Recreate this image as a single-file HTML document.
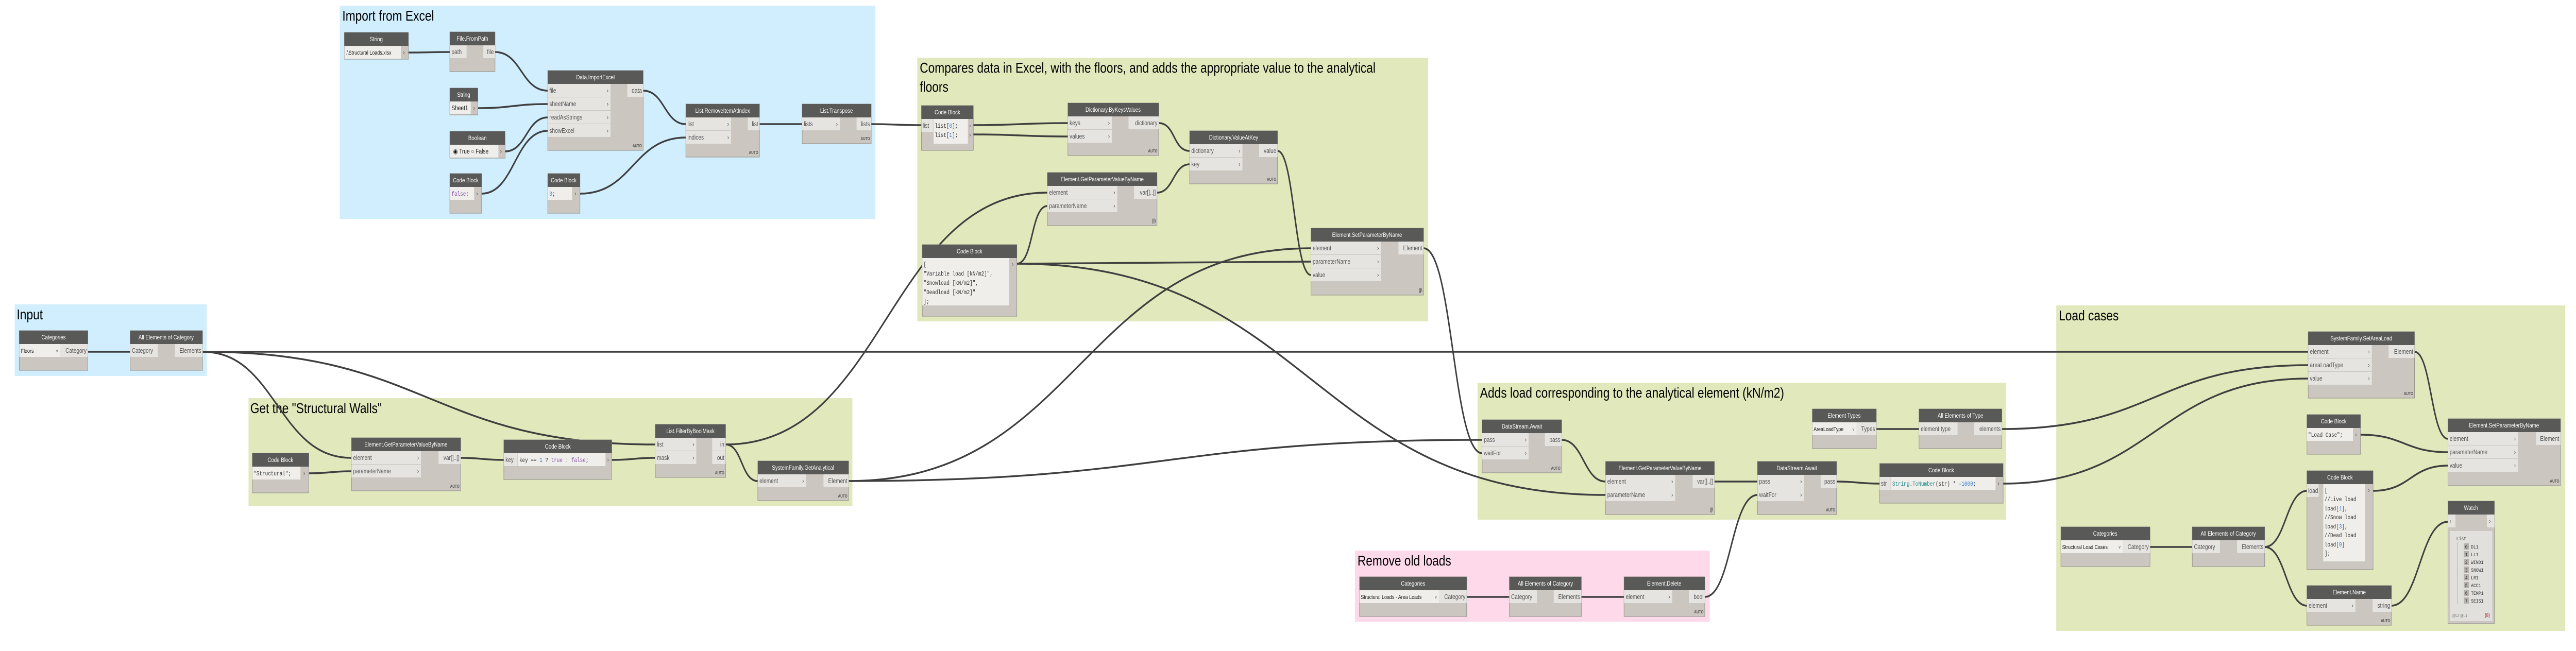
<!DOCTYPE html>
<html><head><meta charset="utf-8"><style>
html,body{margin:0;padding:0;background:#fff;width:100%;height:100%;overflow:hidden;}
svg{display:block;font-family:"Liberation Sans",sans-serif;width:100vw;height:100vh;}
.h{fill:#595957}.b{fill:#cbc7c0;stroke:#8e8b86;stroke-width:1}.r{fill:#e6e4e0}.f{fill:#efeeeb}
.t{fill:#fff;font-size:12px;text-anchor:middle}
.p{fill:#555;font-size:12.5px}.e{text-anchor:end}
.a{fill:#555;font-size:8px;font-weight:bold;text-anchor:end}
.c{font-family:"Liberation Mono",monospace;font-size:11.5px;fill:#333}
.g{font-size:28px;fill:#000}
.w{fill:none;stroke:#3f3f3f;stroke-width:3.5}
</style></head><body>
<svg viewBox="0 0 6156 1264" preserveAspectRatio="none" xmlns="http://www.w3.org/2000/svg">
<!-- groups -->
<rect x="812" y="11" width="1280" height="414" fill="#d0eefd"/>
<text class="g" x="818" y="40">Import from Excel</text>
<rect x="2192" y="112" width="1221" height="512" fill="#e1e8bb"/>
<text class="g" x="2198" y="141">Compares data in Excel, with the floors, and adds the appropriate value to the analytical</text>
<text class="g" x="2198" y="178">floors</text>
<rect x="35" y="591" width="459" height="139" fill="#d0eefd"/>
<text class="g" x="40" y="620">Input</text>
<rect x="594" y="773" width="1443" height="210" fill="#e1e8bb"/>
<text class="g" x="598" y="802">Get the "Structural Walls"</text>
<rect x="3531" y="743" width="1263" height="266" fill="#e1e8bb"/>
<text class="g" x="3537" y="772">Adds load corresponding to the analytical element (kN/m2)</text>
<rect x="3238" y="1069" width="848" height="138" fill="#fdd9ea"/>
<text class="g" x="3244" y="1098">Remove old loads</text>
<rect x="4914" y="593" width="1216" height="632" fill="#e1e8bb"/>
<text class="g" x="4920" y="622">Load cases</text>

<!-- wires -->
<g class="w">
<path d="M976 102 C1026 102 1025 101 1075 101"/>
<path d="M1183 101 C1246 101 1246 176 1309 176"/>
<path d="M1142 210 C1226 210 1225 202 1309 202"/>
<path d="M1207 294 C1258 294 1258 228 1309 228"/>
<path d="M1151 376 C1230 376 1230 254 1309 254"/>
<path d="M1386 376 C1513 376 1512 267 1639 267"/>
<path d="M1537 176 C1588 176 1588 241 1639 241"/>
<path d="M1815 241 L1917 241"/>
<path d="M2082 241 C2142 241 2142 243 2202 243"/>
<path d="M2326 243 C2439 243 2439 239 2552 239"/>
<path d="M2326 261 C2439 261 2439 265 2552 265"/>
<path d="M2769 239 C2809 239 2803 293 2843 293"/>
<path d="M2765 374 C2805 374 2803 319 2843 319"/>
<path d="M3053 293 C3093 293 3093 534 3133 534"/>
<path d="M2430 512 C2470 512 2463 400 2503 400"/>
<path d="M2430 512 C2781 512 2782 508 3133 508"/>
<path d="M2430 512 C3133 512 3134 961 3837 961"/>
<path d="M484 683 L5516 683"/>
<path d="M484 683 C662 683 662 889 840 889"/>
<path d="M484 683 C1025 683 1025 863 1566 863"/>
<path d="M210 683 L311 683"/>
<path d="M738 919 C789 919 789 915 840 915"/>
<path d="M1101 889 C1152 889 1153 893 1204 893"/>
<path d="M1462 893 C1514 893 1514 889 1566 889"/>
<path d="M1734 863 C1774 863 1771 934 1811 934"/>
<path d="M1734 863 C2118 863 2119 374 2503 374"/>
<path d="M2028 934 C2580 934 2581 482 3133 482"/>
<path d="M2028 934 C2785 934 2785 854 3542 854"/>
<path d="M3402 482 C3472 482 3472 880 3542 880"/>
<path d="M3732 854 C3784 854 3785 935 3837 935"/>
<path d="M4097 935 L4200 935"/>
<path d="M4074 1159 C4137 1159 4137 961 4200 961"/>
<path d="M4389 935 C4440 935 4441 939 4492 939"/>
<path d="M4787 939 C5151 939 5152 735 5516 735"/>
<path d="M4484 833 L4586 833"/>
<path d="M4784 833 C5150 833 5150 709 5516 709"/>
<path d="M3505 1159 L3607 1159"/>
<path d="M3779 1159 L3881 1159"/>
<path d="M5770 683 C5810 683 5810 852 5850 852"/>
<path d="M5641 844 C5745 844 5746 878 5850 878"/>
<path d="M5671 953 C5761 953 5760 904 5850 904"/>
<path d="M5138 1062 L5239 1062"/>
<path d="M5412 1062 C5462 1062 5463 953 5513 953"/>
<path d="M5412 1062 C5462 1062 5463 1176 5513 1176"/>
<path d="M5715 1176 C5782 1176 5783 1013 5850 1013"/>
</g>

<!-- ===== Import from Excel ===== -->
<g transform="translate(823,63)"><rect class="b" width="153" height="52"/><rect class="h" width="153" height="26"/><text class="t" x="76" y="17">String</text>
<rect class="f" y="26" width="135" height="25"/><text class="p" x="4" y="43" style="fill:#111;font-size:11px">.\Structural Loads.xlsx</text><text class="p" x="140" y="43">›</text></g>

<g transform="translate(1075,62)"><rect class="b" width="108" height="77"/><rect class="h" width="108" height="26"/><text class="t" x="54" y="17">File.FromPath</text>
<rect class="r" y="26" width="40" height="25"/><text class="p" x="4" y="43">path</text>
<rect class="r" x="80" y="26" width="28" height="25"/><text class="p e" x="105" y="43">file</text></g>

<g transform="translate(1309,137)"><rect class="b" width="228" height="155"/><rect class="h" width="228" height="26"/><text class="t" x="114" y="17">Data.ImportExcel</text>
<rect class="r" y="26" width="150" height="25"/><text class="p" x="4" y="43">file</text><text class="p" x="141" y="43">›</text>
<rect class="r" y="52" width="150" height="25"/><text class="p" x="4" y="69">sheetName</text><text class="p" x="141" y="69">›</text>
<rect class="r" y="78" width="150" height="25"/><text class="p" x="4" y="95">readAsStrings</text><text class="p" x="141" y="95">›</text>
<rect class="r" y="104" width="150" height="25"/><text class="p" x="4" y="121">showExcel</text><text class="p" x="141" y="121">›</text>
<rect class="r" x="190" y="26" width="38" height="25"/><text class="p e" x="225" y="43">data</text>
<text class="a" x="225" y="149">AUTO</text></g>

<g transform="translate(1075,171)"><rect class="b" width="67" height="52"/><rect class="h" width="67" height="26"/><text class="t" x="33" y="17">String</text>
<rect class="f" y="26" width="50" height="25"/><text class="p" x="4" y="43" style="fill:#111">Sheet1</text><text class="p" x="56" y="43">›</text></g>

<g transform="translate(1075,255)"><rect class="b" width="132" height="52"/><rect class="h" width="132" height="26"/><text class="t" x="66" y="17">Boolean</text>
<rect class="f" y="26" width="116" height="25"/><text class="p" x="8" y="43" style="fill:#111">◉ True  ○ False</text><text class="p" x="120" y="43">›</text></g>

<g transform="translate(1075,337)"><rect class="b" width="76" height="77"/><rect class="h" width="76" height="26"/><text class="t" x="38" y="17">Code Block</text>
<rect class="f" y="26" width="58" height="25"/><text class="c" x="4" y="43"><tspan fill="#8a4fb0">false</tspan>;</text><text class="p" x="63" y="43">›</text></g>

<g transform="translate(1309,337)"><rect class="b" width="77" height="77"/><rect class="h" width="77" height="26"/><text class="t" x="38" y="17">Code Block</text>
<rect class="f" y="26" width="58" height="25"/><text class="c" x="4" y="43"><tspan fill="#2a7fd4">0</tspan>;</text><text class="p" x="64" y="43">›</text></g>

<g transform="translate(1639,202)"><rect class="b" width="176" height="103"/><rect class="h" width="176" height="26"/><text class="t" x="88" y="17">List.RemoveItemAtIndex</text>
<rect class="r" y="26" width="108" height="25"/><text class="p" x="4" y="43">list</text><text class="p" x="99" y="43">›</text>
<rect class="r" y="52" width="108" height="25"/><text class="p" x="4" y="69">indices</text><text class="p" x="99" y="69">›</text>
<rect class="r" x="148" y="26" width="28" height="25"/><text class="p e" x="173" y="43">list</text>
<text class="a" x="173" y="97">AUTO</text></g>

<g transform="translate(1917,202)"><rect class="b" width="165" height="77"/><rect class="h" width="165" height="26"/><text class="t" x="82" y="17">List.Transpose</text>
<rect class="r" y="26" width="90" height="25"/><text class="p" x="4" y="43">lists</text><text class="p" x="81" y="43">›</text>
<rect class="r" x="130" y="26" width="35" height="25"/><text class="p e" x="162" y="43">lists</text>
<text class="a" x="162" y="70">AUTO</text></g>

<!-- ===== Compares ===== -->
<g transform="translate(2202,205)"><rect class="b" width="124" height="87"/><rect class="h" width="124" height="26"/><text class="t" x="62" y="17">Code Block</text>
<rect class="r" y="26" width="28" height="25"/><text class="p" x="3" y="43">list</text>
<rect class="f" x="29" y="26" width="82" height="48"/>
<text class="c" x="32" y="43">list[<tspan fill="#2a7fd4">0</tspan>];</text><text class="c" x="32" y="61">list[<tspan fill="#2a7fd4">1</tspan>];</text>
<text class="p" x="114" y="43">›</text><text class="p" x="114" y="61">›</text></g>

<g transform="translate(2552,200)"><rect class="b" width="217" height="102"/><rect class="h" width="217" height="26"/><text class="t" x="108" y="17">Dictionary.ByKeysValues</text>
<rect class="r" y="26" width="105" height="25"/><text class="p" x="4" y="43">keys</text><text class="p" x="96" y="43">›</text>
<rect class="r" y="52" width="105" height="25"/><text class="p" x="4" y="69">values</text><text class="p" x="96" y="69">›</text>
<rect class="r" x="145" y="26" width="72" height="25"/><text class="p e" x="214" y="43">dictionary</text>
<text class="a" x="214" y="96">AUTO</text></g>

<g transform="translate(2843,254)"><rect class="b" width="210" height="103"/><rect class="h" width="210" height="26"/><text class="t" x="105" y="17">Dictionary.ValueAtKey</text>
<rect class="r" y="26" width="126" height="25"/><text class="p" x="4" y="43">dictionary</text><text class="p" x="117" y="43">›</text>
<rect class="r" y="52" width="126" height="25"/><text class="p" x="4" y="69">key</text><text class="p" x="117" y="69">›</text>
<rect class="r" x="166" y="26" width="44" height="25"/><text class="p e" x="207" y="43">value</text>
<text class="a" x="207" y="97">AUTO</text></g>

<g transform="translate(2503,335)"><rect class="b" width="262" height="103"/><rect class="h" width="262" height="26"/><text class="t" x="131" y="17">Element.GetParameterValueByName</text>
<rect class="r" y="26" width="167" height="25"/><text class="p" x="4" y="43">element</text><text class="p" x="158" y="43">›</text>
<rect class="r" y="52" width="167" height="25"/><text class="p" x="4" y="69">parameterName</text><text class="p" x="158" y="69">›</text>
<rect class="r" x="207" y="26" width="55" height="25"/><text class="p e" x="259" y="43">var[]..[]</text>
<text class="a" x="259" y="97" style="font-size:10px">||\</text></g>

<g transform="translate(2204,475)"><rect class="b" width="226" height="139"/><rect class="h" width="226" height="26"/><text class="t" x="113" y="17">Code Block</text>
<rect class="f" y="26" width="207" height="92"/>
<text class="c" x="3" y="42">[</text>
<text class="c" x="3" y="60" fill="#9a5a2a">"Variable load [kN/m2]"<tspan fill="#333">,</tspan></text>
<text class="c" x="3" y="78" fill="#9a5a2a">"Snowload [kN/m2]"<tspan fill="#333">,</tspan></text>
<text class="c" x="3" y="96" fill="#9a5a2a">"Deadload [kN/m2]"</text>
<text class="c" x="3" y="114">];</text>
<text class="p" x="214" y="42">›</text></g>

<g transform="translate(3133,443)"><rect class="b" width="269" height="130"/><rect class="h" width="269" height="26"/><text class="t" x="134" y="17">Element.SetParameterByName</text>
<rect class="r" y="26" width="167" height="25"/><text class="p" x="4" y="43">element</text><text class="p" x="158" y="43">›</text>
<rect class="r" y="52" width="167" height="25"/><text class="p" x="4" y="69">parameterName</text><text class="p" x="158" y="69">›</text>
<rect class="r" y="78" width="167" height="25"/><text class="p" x="4" y="95">value</text><text class="p" x="158" y="95">›</text>
<rect class="r" x="209" y="26" width="60" height="25"/><text class="p e" x="266" y="43">Element</text>
<text class="a" x="266" y="124" style="font-size:10px">||\</text></g>

<!-- ===== Input ===== -->
<g transform="translate(46,642)"><rect class="b" width="164" height="77"/><rect class="h" width="164" height="26"/><text class="t" x="82" y="17">Categories</text>
<rect class="f" y="26" width="98" height="25"/><text class="p" x="4" y="43" style="fill:#111;font-size:11px">Floors</text><text class="p" x="88" y="42" style="font-size:9px">v</text>
<rect class="r" x="98" y="26" width="66" height="25"/><text class="p e" x="161" y="43">Category</text></g>

<g transform="translate(311,642)"><rect class="b" width="173" height="77"/><rect class="h" width="173" height="26"/><text class="t" x="86" y="17">All Elements of Category</text>
<rect class="r" y="26" width="66" height="25"/><text class="p" x="4" y="43">Category</text>
<rect class="r" x="107" y="26" width="66" height="25"/><text class="p e" x="170" y="43">Elements</text></g>

<!-- ===== Structural Walls ===== -->
<g transform="translate(603,880)"><rect class="b" width="135" height="77"/><rect class="h" width="135" height="26"/><text class="t" x="67" y="17">Code Block</text>
<rect class="f" y="26" width="115" height="25"/><text class="c" x="3" y="43" fill="#9a5a2a">"Structural"<tspan fill="#333">;</tspan></text><text class="p" x="122" y="43">›</text></g>

<g transform="translate(840,850)"><rect class="b" width="261" height="103"/><rect class="h" width="261" height="26"/><text class="t" x="130" y="17">Element.GetParameterValueByName</text>
<rect class="r" y="26" width="166" height="25"/><text class="p" x="4" y="43">element</text><text class="p" x="157" y="43">›</text>
<rect class="r" y="52" width="166" height="25"/><text class="p" x="4" y="69">parameterName</text><text class="p" x="157" y="69">›</text>
<rect class="r" x="208" y="26" width="53" height="25"/><text class="p e" x="258" y="43">var[]..[]</text>
<text class="a" x="258" y="97">AUTO</text></g>

<g transform="translate(1204,854)"><rect class="b" width="258" height="77"/><rect class="h" width="258" height="26"/><text class="t" x="129" y="17">Code Block</text>
<rect class="r" y="26" width="32" height="25"/><text class="p" x="4" y="43">key</text>
<rect class="f" x="33" y="26" width="210" height="25"/><text class="c" x="37" y="43">key == <tspan fill="#2a7fd4">1</tspan> ? <tspan fill="#8a4fb0">true</tspan> : <tspan fill="#8a4fb0">false</tspan>;</text><text class="p" x="247" y="43">›</text></g>

<g transform="translate(1566,824)"><rect class="b" width="168" height="103"/><rect class="h" width="168" height="26"/><text class="t" x="84" y="17">List.FilterByBoolMask</text>
<rect class="r" y="26" width="98" height="25"/><text class="p" x="4" y="43">list</text><text class="p" x="89" y="43">›</text>
<rect class="r" y="52" width="98" height="25"/><text class="p" x="4" y="69">mask</text><text class="p" x="89" y="69">›</text>
<rect class="r" x="136" y="26" width="32" height="25"/><text class="p e" x="165" y="43">in</text>
<rect class="r" x="136" y="52" width="32" height="25"/><text class="p e" x="165" y="69">out</text>
<text class="a" x="165" y="97">AUTO</text></g>

<g transform="translate(1811,895)"><rect class="b" width="217" height="77"/><rect class="h" width="217" height="26"/><text class="t" x="108" y="17">SystemFamily.GetAnalytical</text>
<rect class="r" y="26" width="115" height="25"/><text class="p" x="4" y="43">element</text><text class="p" x="106" y="43">›</text>
<rect class="r" x="157" y="26" width="60" height="25"/><text class="p e" x="214" y="43">Element</text>
<text class="a" x="214" y="71">AUTO</text></g>

<!-- ===== Adds load ===== -->
<g transform="translate(3542,815)"><rect class="b" width="190" height="103"/><rect class="h" width="190" height="26"/><text class="t" x="95" y="17">DataStream.Await</text>
<rect class="r" y="26" width="111" height="25"/><text class="p" x="4" y="43">pass</text><text class="p" x="102" y="43">›</text>
<rect class="r" y="52" width="111" height="25"/><text class="p" x="4" y="69">waitFor</text><text class="p" x="102" y="69">›</text>
<rect class="r" x="150" y="26" width="40" height="25"/><text class="p e" x="187" y="43">pass</text>
<text class="a" x="187" y="97">AUTO</text></g>

<g transform="translate(3837,896)"><rect class="b" width="260" height="103"/><rect class="h" width="260" height="26"/><text class="t" x="130" y="17">Element.GetParameterValueByName</text>
<rect class="r" y="26" width="166" height="25"/><text class="p" x="4" y="43">element</text><text class="p" x="157" y="43">›</text>
<rect class="r" y="52" width="166" height="25"/><text class="p" x="4" y="69">parameterName</text><text class="p" x="157" y="69">›</text>
<rect class="r" x="208" y="26" width="52" height="25"/><text class="p e" x="257" y="43">var[]..[]</text>
<text class="a" x="257" y="97" style="font-size:10px">||\</text></g>

<g transform="translate(4200,896)"><rect class="b" width="189" height="103"/><rect class="h" width="189" height="26"/><text class="t" x="94" y="17">DataStream.Await</text>
<rect class="r" y="26" width="111" height="25"/><text class="p" x="4" y="43">pass</text><text class="p" x="102" y="43">›</text>
<rect class="r" y="52" width="111" height="25"/><text class="p" x="4" y="69">waitFor</text><text class="p" x="102" y="69">›</text>
<rect class="r" x="151" y="26" width="38" height="25"/><text class="p e" x="186" y="43">pass</text>
<text class="a" x="186" y="97">AUTO</text></g>

<g transform="translate(4492,900)"><rect class="b" width="295" height="77"/><rect class="h" width="295" height="26"/><text class="t" x="147" y="17">Code Block</text>
<rect class="r" y="26" width="26" height="25"/><text class="p" x="3" y="43">str</text>
<rect class="f" x="27" y="26" width="250" height="25"/><text class="c" x="30" y="43"><tspan fill="#1f8a8a">String</tspan>.<tspan fill="#1f8a8a">ToNumber</tspan>(str) * <tspan fill="#2a7fd4">-1000</tspan>;</text><text class="p" x="282" y="43">›</text></g>

<g transform="translate(4331,794)"><rect class="b" width="153" height="77"/><rect class="h" width="153" height="26"/><text class="t" x="76" y="17">Element Types</text>
<rect class="f" y="26" width="106" height="25"/><text class="p" x="3" y="43" style="fill:#111;font-size:11px">AreaLoadType</text><text class="p" x="96" y="42" style="font-size:9px">v</text>
<rect class="r" x="106" y="26" width="47" height="25"/><text class="p e" x="150" y="43">Types</text></g>

<g transform="translate(4586,794)"><rect class="b" width="198" height="77"/><rect class="h" width="198" height="26"/><text class="t" x="99" y="17">All Elements of Type</text>
<rect class="r" y="26" width="92" height="25"/><text class="p" x="4" y="43">element type</text>
<rect class="r" x="132" y="26" width="66" height="25"/><text class="p e" x="195" y="43">elements</text></g>

<!-- ===== Remove old loads ===== -->
<g transform="translate(3249,1120)"><rect class="b" width="256" height="77"/><rect class="h" width="256" height="26"/><text class="t" x="128" y="17">Categories</text>
<rect class="f" y="26" width="190" height="25"/><text class="p" x="3" y="43" style="fill:#111;font-size:11px">Structural Loads - Area Loads</text><text class="p" x="180" y="42" style="font-size:9px">v</text>
<rect class="r" x="190" y="26" width="66" height="25"/><text class="p e" x="253" y="43">Category</text></g>

<g transform="translate(3607,1120)"><rect class="b" width="172" height="77"/><rect class="h" width="172" height="26"/><text class="t" x="86" y="17">All Elements of Category</text>
<rect class="r" y="26" width="66" height="25"/><text class="p" x="4" y="43">Category</text>
<rect class="r" x="106" y="26" width="66" height="25"/><text class="p e" x="169" y="43">Elements</text></g>

<g transform="translate(3881,1120)"><rect class="b" width="193" height="77"/><rect class="h" width="193" height="26"/><text class="t" x="96" y="17">Element.Delete</text>
<rect class="r" y="26" width="115" height="25"/><text class="p" x="4" y="43">element</text><text class="p" x="106" y="43">›</text>
<rect class="r" x="155" y="26" width="38" height="25"/><text class="p e" x="190" y="43">bool</text>
<text class="a" x="190" y="71">AUTO</text></g>

<!-- ===== Load cases ===== -->
<g transform="translate(5516,644)"><rect class="b" width="254" height="129"/><rect class="h" width="254" height="26"/><text class="t" x="127" y="17">SystemFamily.SetAreaLoad</text>
<rect class="r" y="26" width="152" height="25"/><text class="p" x="4" y="43">element</text><text class="p" x="143" y="43">›</text>
<rect class="r" y="52" width="152" height="25"/><text class="p" x="4" y="69">areaLoadType</text><text class="p" x="143" y="69">›</text>
<rect class="r" y="78" width="152" height="25"/><text class="p" x="4" y="95">value</text><text class="p" x="143" y="95">›</text>
<rect class="r" x="192" y="26" width="62" height="25"/><text class="p e" x="251" y="43">Element</text>
<text class="a" x="251" y="123">AUTO</text></g>

<g transform="translate(5513,805)"><rect class="b" width="128" height="77"/><rect class="h" width="128" height="26"/><text class="t" x="64" y="17">Code Block</text>
<rect class="f" y="26" width="110" height="25"/><text class="c" x="3" y="43" fill="#9a5a2a">"Load Case"<tspan fill="#333">;</tspan></text><text class="p" x="115" y="43">›</text></g>

<g transform="translate(5850,813)"><rect class="b" width="269" height="130"/><rect class="h" width="269" height="26"/><text class="t" x="134" y="17">Element.SetParameterByName</text>
<rect class="r" y="26" width="167" height="25"/><text class="p" x="4" y="43">element</text><text class="p" x="158" y="43">›</text>
<rect class="r" y="52" width="167" height="25"/><text class="p" x="4" y="69">parameterName</text><text class="p" x="158" y="69">›</text>
<rect class="r" y="78" width="167" height="25"/><text class="p" x="4" y="95">value</text><text class="p" x="158" y="95">›</text>
<rect class="r" x="211" y="26" width="58" height="25"/><text class="p e" x="266" y="43">Element</text>
<text class="a" x="266" y="124">AUTO</text></g>

<g transform="translate(5513,914)"><rect class="b" width="158" height="192"/><rect class="h" width="158" height="26"/><text class="t" x="79" y="17">Code Block</text>
<rect class="r" y="26" width="28" height="25"/><text class="p" x="3" y="43">load</text>
<rect class="f" x="39" y="26" width="100" height="150"/>
<text class="c" x="42" y="42">[</text>
<text class="c" x="42" y="59" fill="#2e8b2e">//Live load</text>
<text class="c" x="42" y="77">load[<tspan fill="#2a7fd4">1</tspan>],</text>
<text class="c" x="42" y="94" fill="#2e8b2e">//Snow load</text>
<text class="c" x="42" y="112">load[<tspan fill="#2a7fd4">3</tspan>],</text>
<text class="c" x="42" y="129" fill="#2e8b2e">//Dead load</text>
<text class="c" x="42" y="147">load[<tspan fill="#2a7fd4">0</tspan>]</text>
<text class="c" x="42" y="164">];</text>
<text class="p" x="146" y="42">›</text></g>

<g transform="translate(4925,1023)"><rect class="b" width="213" height="77"/><rect class="h" width="213" height="26"/><text class="t" x="106" y="17">Categories</text>
<rect class="f" y="26" width="148" height="25"/><text class="p" x="3" y="43" style="fill:#111;font-size:11px">Structural Load Cases</text><text class="p" x="138" y="42" style="font-size:9px">v</text>
<rect class="r" x="148" y="26" width="65" height="25"/><text class="p e" x="210" y="43">Category</text></g>

<g transform="translate(5239,1023)"><rect class="b" width="173" height="77"/><rect class="h" width="173" height="26"/><text class="t" x="86" y="17">All Elements of Category</text>
<rect class="r" y="26" width="66" height="25"/><text class="p" x="4" y="43">Category</text>
<rect class="r" x="107" y="26" width="66" height="25"/><text class="p e" x="170" y="43">Elements</text></g>

<g transform="translate(5513,1137)"><rect class="b" width="202" height="77"/><rect class="h" width="202" height="26"/><text class="t" x="101" y="17">Element.Name</text>
<rect class="r" y="26" width="116" height="25"/><text class="p" x="4" y="43">element</text><text class="p" x="107" y="43">›</text>
<rect class="r" x="157" y="26" width="45" height="25"/><text class="p e" x="199" y="43">string</text>
<text class="a" x="199" y="71">AUTO</text></g>

<g transform="translate(5850,973)"><rect class="b" width="111" height="238"/><rect class="h" width="111" height="26"/><text class="t" x="55" y="17">Watch</text>
<rect class="r" y="26" width="18" height="25"/><text class="p" x="4" y="43">›</text>
<rect class="r" x="93" y="26" width="18" height="25"/><text class="p" x="98" y="43">›</text>
<rect x="5" y="58" width="101" height="175" fill="#e2e0dc"/>
<text class="c" x="20" y="76" style="font-size:10px">List</text>
<line x1="22" y1="80" x2="22" y2="200" stroke="#aaa"/>
<g style="font-size:10px" class="c">
<rect x="38" y="82" width="12" height="12" fill="#b5b2ad"/><text x="41" y="92">0</text><text x="55" y="92">DL1</text>
<rect x="38" y="97" width="12" height="12" fill="#b5b2ad"/><text x="41" y="107">1</text><text x="55" y="107">LL1</text>
<rect x="38" y="112" width="12" height="12" fill="#b5b2ad"/><text x="41" y="122">2</text><text x="55" y="122">WIND1</text>
<rect x="38" y="127" width="12" height="12" fill="#b5b2ad"/><text x="41" y="137">3</text><text x="55" y="137">SNOW1</text>
<rect x="38" y="142" width="12" height="12" fill="#b5b2ad"/><text x="41" y="152">4</text><text x="55" y="152">LR1</text>
<rect x="38" y="157" width="12" height="12" fill="#b5b2ad"/><text x="41" y="167">5</text><text x="55" y="167">ACC1</text>
<rect x="38" y="172" width="12" height="12" fill="#b5b2ad"/><text x="41" y="182">6</text><text x="55" y="182">TEMP1</text>
<rect x="38" y="187" width="12" height="12" fill="#b5b2ad"/><text x="41" y="197">7</text><text x="55" y="197">SEIS1</text>
</g>
<text x="10" y="225" style="font-size:8px;fill:#777">@L2 @L1</text><text x="88" y="225" style="font-size:10px;fill:#b02020">{8}</text></g>
</svg>
</body></html>
